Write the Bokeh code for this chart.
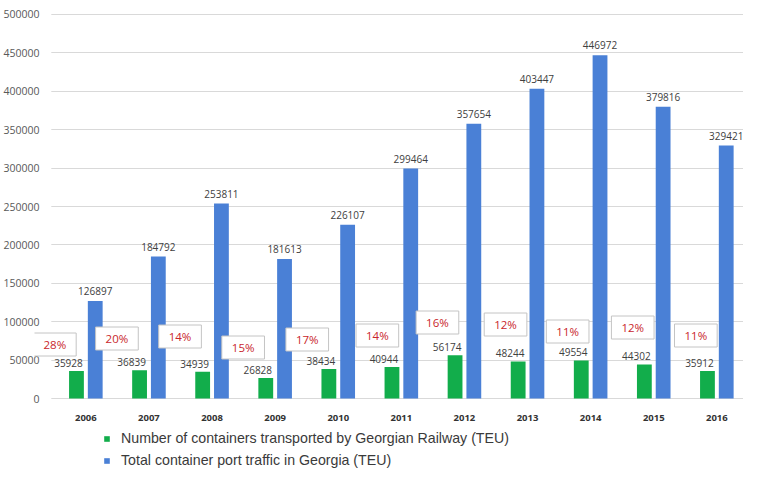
from bokeh.plotting import figure
from bokeh.layouts import column
from bokeh.models import (ColumnDataSource, FixedTicker, Legend, LegendItem, Range1d,
                          LabelSet, Label, BoxAnnotation)
from bokeh.transform import dodge
from bokeh.core.properties import value
from bokeh.embed import file_html
from bokeh.resources import INLINE

# ---- data ----
years = [2006, 2007, 2008, 2009, 2010, 2011, 2012, 2013, 2014, 2015, 2016]
railway = [35928, 36839, 34939, 26828, 38434, 40944, 56174, 48244, 49554, 44302, 35912]
port = [126897, 184792, 253811, 181613, 226107, 299464, 357654, 403447, 446972, 379816, 329421]
share_labels = ["28%", "20%", "14%", "15%", "17%", "14%", "16%", "12%", "11%", "12%", "11%"]
y_ticks = [0, 50000, 100000, 150000, 200000, 250000, 300000, 350000, 400000, 450000, 500000]
series_names = ["Number of containers transported by Georgian Railway (TEU)",
                "Total container port traffic in Georgia (TEU)"]

# ---- layout of the percentage boxes (screen pixels, relative to category / zero line) ----
box_dx = [-31, -32, -32, -32, -31, -24, -27, -22, -23, -21, -21]
box_up = [54, 60, 62, 51, 59, 63, 76, 74, 67, 71, 63]

GREEN = "#12ad4b"
BLUE = "#4a80d6"
DODGE = 0.1487
BAR_W = 0.2347
X_START = 2005.1862       # frame reaches left so the first share box is not clipped
GRID_START = 2005.4523    # gridlines visibly begin just right of the tick labels

src = ColumnDataSource(dict(
    year=years, railway=railway, port=port,
    rail_lbl=[str(v) for v in railway], port_lbl=[str(v) for v in port],
))

p = figure(width=743, height=425, output_backend="svg", toolbar_location=None,
           x_range=Range1d(X_START, 2016.4225), y_range=Range1d(-5208, 503906),
           min_border_left=25, min_border_right=0, min_border_top=11, min_border_bottom=23)
p.outline_line_color = None
p.background_fill_color = "white"
p.border_fill_color = "white"

# white strip under the tick labels (keeps gridlines starting right of the labels)
p.add_layout(BoxAnnotation(right=GRID_START, fill_color="white", fill_alpha=1.0,
                           line_color=None, level="underlay"))

r_rail = p.vbar(x=dodge("year", -DODGE), top="railway", width=BAR_W,
                source=src, fill_color=GREEN, line_color=None)
r_port = p.vbar(x=dodge("year", DODGE), top="port", width=BAR_W,
                source=src, fill_color=BLUE, line_color=None)

# value labels
p.add_layout(LabelSet(x=dodge("year", -DODGE), y="railway", text="rail_lbl", source=src,
                      x_offset=-8, y_offset=4, text_align="center", text_baseline="bottom",
                      text_font=value("Open Sans"), text_font_size=value("10px"),
                      text_color="#404040"))
p.add_layout(LabelSet(x=dodge("year", DODGE), y="port", text="port_lbl", source=src,
                      x_offset=0, y_offset=6, text_align="center", text_baseline="bottom",
                      text_font=value("Open Sans"), text_font_size=value("10px"),
                      text_color="#404040"))

# share boxes
for yr, txt, dx, up in zip(years, share_labels, box_dx, box_up):
    p.add_layout(Label(x=yr, y=0, x_offset=dx, y_offset=up, text=txt,
                       text_align="center", text_baseline="middle",
                       text_font="Open Sans", text_font_size="11.5px", text_color="#c9262c",
                       background_fill_color="white", border_line_color="#c4c4c4",
                       border_line_width=1,
                       padding=dict(left=10, right=10, top=4, bottom=4)))

# axes
p.xaxis.ticker = FixedTicker(ticks=years)
p.xaxis.axis_line_color = None
p.xaxis.major_tick_line_color = None
p.xaxis.minor_tick_line_color = None
p.xaxis.major_label_text_font = "Open Sans"
p.xaxis.major_label_text_font_style = "bold"
p.xaxis.major_label_text_font_size = "9.5px"
p.xaxis.major_label_text_color = "#333333"
p.xaxis.major_label_standoff = 6

p.yaxis.ticker = FixedTicker(ticks=y_ticks)
p.yaxis.formatter.use_scientific = False
p.yaxis.axis_line_color = None
p.yaxis.major_tick_line_color = None
p.yaxis.minor_tick_line_color = None
p.yaxis.major_label_text_font = "Open Sans"
p.yaxis.major_label_text_font_size = "10.5px"
p.yaxis.major_label_text_color = "#595959"
p.yaxis.major_label_standoff = -11

p.xgrid.grid_line_color = None
p.ygrid.grid_line_color = "#d9d9d9"
p.ygrid.grid_line_width = 1

# ---- legend strip below the chart ----
lg = figure(width=743, height=43, output_backend="svg", toolbar_location=None,
            x_range=Range1d(0, 1), y_range=Range1d(0, 1),
            x_axis_type=None, y_axis_type=None,
            min_border_left=0, min_border_right=0, min_border_top=0, min_border_bottom=0)
lg.outline_line_color = None
lg.xgrid.grid_line_color = None
lg.ygrid.grid_line_color = None
d_rail = lg.vbar(x=[5], top=[1], width=0.1, fill_color=GREEN, line_color=None)
d_port = lg.vbar(x=[5], top=[1], width=0.1, fill_color=BLUE, line_color=None)
legend = Legend(items=[LegendItem(label=series_names[0], renderers=[d_rail]),
                       LegendItem(label=series_names[1], renderers=[d_port])],
                location=(69, 0), orientation="vertical",
                label_text_font="Liberation Sans", label_text_font_size="14.2px",
                label_text_color="#3a3a3a", glyph_width=7, glyph_height=7,
                label_height=16, label_standoff=11, spacing=6, padding=0, margin=0,
                border_line_color=None, background_fill_alpha=0)
lg.add_layout(legend)

layout = column(p, lg, spacing=0)
open("out.html", "w").write(file_html(layout, INLINE))
